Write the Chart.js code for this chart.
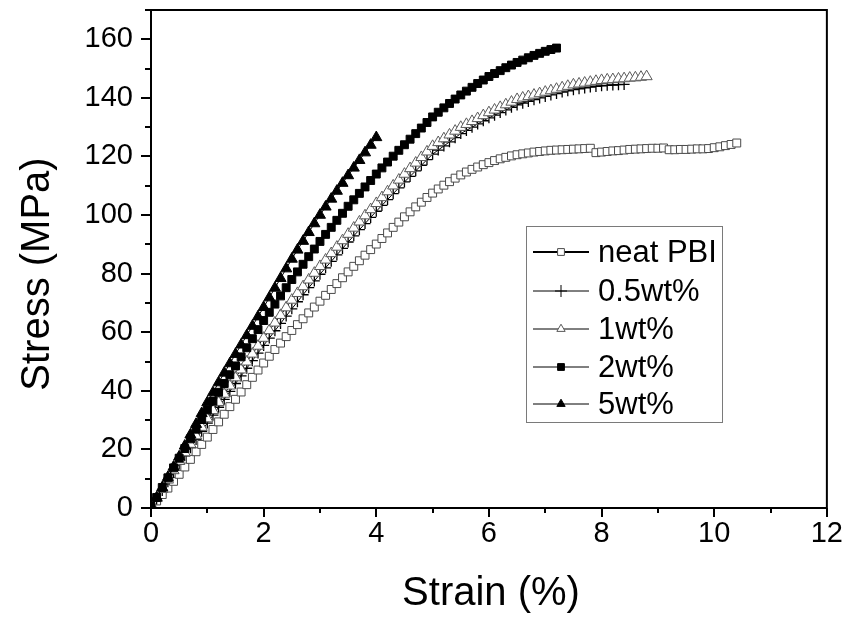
<!DOCTYPE html>
<html lang="en">
<head>
<meta charset="UTF-8">
<title>Stress-Strain curves</title>
<script src="https://cdn.jsdelivr.net/npm/chart.js"></script>
<style>
  html, body { margin: 0; padding: 0; background: #fff; }
  .chart-wrapper { position: relative; width: 852px; height: 626px; }
</style>
</head>
<body>
<div class="chart-wrapper"><canvas id="stressChart"></canvas></div>
<script>
// strain (%) sample points, shared by every curve
const strain = [
  0, 0.1, 0.2, 0.3, 0.4, 0.5, 0.6, 0.7, 0.8, 0.9,
  1, 1.1, 1.2, 1.3, 1.4, 1.5, 1.6, 1.7, 1.8, 1.9,
  2, 2.1, 2.2, 2.3, 2.4, 2.5, 2.6, 2.7, 2.8, 2.9,
  3, 3.1, 3.2, 3.3, 3.4, 3.5, 3.6, 3.7, 3.8, 3.9,
  4, 4.1, 4.2, 4.3, 4.4, 4.5, 4.6, 4.7, 4.8, 4.9,
  5, 5.1, 5.2, 5.3, 5.4, 5.5, 5.6, 5.7, 5.8, 5.9,
  6, 6.1, 6.2, 6.3, 6.4, 6.5, 6.6, 6.7, 6.8, 6.9,
  7, 7.1, 7.2, 7.3, 7.4, 7.5, 7.6, 7.7, 7.8, 7.9,
  8, 8.1, 8.2, 8.3, 8.4, 8.5, 8.6, 8.7, 8.8, 8.9,
  9, 9.1, 9.2, 9.3, 9.4, 9.5, 9.6, 9.7, 9.8, 9.9,
  10, 10.1, 10.2, 10.3, 10.4
];

// stress (MPa)
const neatPBI = [
  0.3, 2.4, 4.6, 6.8, 9.1, 11.5, 14, 16.6, 19.2, 21.7,
  24.2, 26.8, 29.4, 32, 34.6, 37.1, 39.6, 42.1, 44.6, 47.1,
  49.5, 51.8, 54.1, 56.3, 58.5, 60.6, 62.6, 64.6, 66.6, 68.6,
  70.6, 72.6, 74.6, 76.6, 78.6, 80.6, 82.5, 84.4, 86.3, 88.2,
  90.1, 92, 93.9, 95.8, 97.6, 99.4, 101.1, 102.8, 104.4, 106,
  107.5, 108.9, 110.2, 111.4, 112.6, 113.7, 114.7, 115.6, 116.4, 117.2,
  117.9, 118.6, 119.2, 119.7, 120.2, 120.6, 120.9, 121.2, 121.5, 121.7,
  121.9, 122.1, 122.2, 122.3, 122.4, 122.5, 122.6, 122.7, 122.8, 121.3,
  121.5, 121.7, 121.9, 122, 122.2, 122.4, 122.5, 122.6, 122.7, 122.8,
  122.8, 122.9, 122.3, 122.3, 122.4, 122.4, 122.5, 122.6, 122.6, 122.7,
  123, 123.3, 123.7, 124.1, 124.6
];
const wt05 = [
  0.3, 3.1, 6, 9, 12, 15, 17.8, 20.6, 23.4, 26.2,
  29, 31.7, 34.4, 37.1, 39.8, 42.5, 45.1, 47.7, 50.3, 52.9,
  55.5, 58, 60.5, 63, 65.5, 68, 70.4, 72.8, 75.2, 77.5,
  79.8, 82, 84.2, 86.4, 88.6, 90.8, 92.9, 95, 97.1, 99.2,
  101.3, 103.3, 105.3, 107.3, 109.3, 111.3, 113.2, 115.1, 117, 118.9,
  120.8, 122.2, 123.6, 125, 126.4, 127.8, 128.9, 130, 131.1, 132.2,
  133.2, 134.1, 135, 135.9, 136.8, 137.6, 138.2, 138.8, 139.4, 140,
  140.5, 141, 141.5, 142, 142.4, 142.8, 143.1, 143.4, 143.7, 143.9,
  144.1, 144.3, 144.4, 144.5, 144.6
];
const wt1 = [
  0.3, 3.3, 6.4, 9.6, 12.8, 16, 18.9, 21.8, 24.7, 27.6,
  30.5, 33.3, 36.1, 38.9, 41.7, 44.5, 47.2, 49.9, 52.6, 55.3,
  58, 60.6, 63.2, 65.8, 68.4, 71, 73.3, 75.6, 77.9, 80.2,
  82.5, 84.7, 86.9, 89.1, 91.3, 93.5, 95.6, 97.7, 99.8, 101.9,
  104, 106, 108, 110, 112, 114, 115.9, 117.8, 119.7, 121.6,
  123.5, 124.8, 126.1, 127.4, 128.7, 130, 131, 132, 133, 134,
  135, 135.9, 136.8, 137.7, 138.6, 139.5, 140, 140.5, 141, 141.5,
  142, 142.5, 143, 143.5, 144, 144.5, 144.8, 145.1, 145.4, 145.7,
  146, 146.2, 146.3, 146.5, 146.6, 146.8, 146.9, 147.1, 147.3
];
const wt2 = [
  0.5, 3.6, 7, 10.3, 13.7, 17, 20.3, 23.6, 26.9, 30.2,
  33.5, 36.5, 39.5, 42.5, 45.5, 48.5, 51.6, 54.7, 57.8, 60.9,
  64, 66.8, 69.6, 72.4, 75.2, 78, 80.6, 83.2, 85.8, 88.4,
  91, 93.4, 95.8, 98.2, 100.6, 103, 105.2, 107.4, 109.6, 111.8,
  114, 116.1, 118.1, 120.1, 122.1, 124, 125.9, 127.8, 129.7, 131.6,
  133.5, 135.1, 136.6, 138.1, 139.6, 141, 142.3, 143.6, 144.9, 146.1,
  147.3, 148.3, 149.3, 150.3, 151.2, 152.1, 152.9, 153.7, 154.5, 155.2,
  155.9, 156.5, 157
];
const wt5 = [
  0.5, 3.5, 7, 10.5, 14, 17.5, 21.2, 25, 28.6, 32.3,
  36, 39.4, 42.8, 46.1, 49.3, 52.5, 55.7, 58.9, 62.1, 65.3,
  68.5, 71.8, 75.1, 78.4, 81.7, 85, 88.1, 91.1, 94.1, 97.1,
  100, 102.8, 105.5, 108.2, 110.9, 113.5, 116.1, 118.7, 121.3, 123.9,
  126.5
];

const seriesNames = ['neat PBI', '0.5wt%', '1wt%', '2wt%', '5wt%'];
const xTickLabels = [0, 2, 4, 6, 8, 10, 12];
const yTickLabels = [0, 20, 40, 60, 80, 100, 120, 140, 160];
const xTitle = 'Strain (%)';
const yTitle = 'Stress (MPa)';

const FONT = '"Liberation Sans", Arial, sans-serif';

// marker look per series (legend uses the same)
const looks = [
  { pointStyle: 'rect',     radius: 5.6, fill: '#ffffff', edge: '#4a4a4a', lineW: 1.6, order: 5 },
  { pointStyle: 'cross',    radius: 5.5, fill: '#000000', edge: '#000000', lineW: 1,   order: 4 },
  { pointStyle: 'triangle', radius: 6.4, fill: '#ffffff', edge: '#5a5a5a', lineW: 1,   order: 3 },
  { pointStyle: 'rect',     radius: 5.6, fill: '#000000', edge: '#000000', lineW: 1,   order: 2 },
  { pointStyle: 'triangle', radius: 6.4, fill: '#000000', edge: '#000000', lineW: 1,   order: 1 }
];

const allSeries = [neatPBI, wt05, wt1, wt2, wt5];

const datasets = allSeries.map((vals, i) => ({
  label: seriesNames[i],
  data: vals.map((v, j) => ({ x: strain[j], y: v })),
  showLine: true,
  borderColor: '#000',
  borderWidth: looks[i].lineW,
  pointStyle: looks[i].pointStyle,
  pointRadius: looks[i].radius,
  pointBackgroundColor: looks[i].fill,
  pointBorderColor: looks[i].edge,
  pointBorderWidth: looks[i].pointStyle === 'cross' ? 1.3 : 1,
  order: looks[i].order
}));

function drawMarker(ctx, style, x, y, r, fill, edge) {
  ctx.save();
  ctx.fillStyle = fill;
  ctx.strokeStyle = edge;
  ctx.lineWidth = 1;
  ctx.beginPath();
  if (style === 'rect') {
    const s = r * Math.SQRT1_2;
    ctx.rect(x - s, y - s, 2 * s, 2 * s);
    ctx.fill(); ctx.stroke();
  } else if (style === 'triangle') {
    ctx.moveTo(x, y - r);
    ctx.lineTo(x + r * 0.866, y + r * 0.5);
    ctx.lineTo(x - r * 0.866, y + r * 0.5);
    ctx.closePath();
    ctx.fill(); ctx.stroke();
  } else if (style === 'cross') {
    ctx.moveTo(x - r, y); ctx.lineTo(x + r, y);
    ctx.moveTo(x, y - r); ctx.lineTo(x, y + r);
    ctx.stroke();
  }
  ctx.restore();
}

const figureDecor = {
  id: 'figureDecor',
  afterDatasetsDraw(chart) {
    const { ctx, chartArea: a, scales: { x, y } } = chart;
    ctx.save();

    // frame round the plot
    ctx.strokeStyle = '#000';
    ctx.lineWidth = 2;
    ctx.strokeRect(a.left, a.top, a.right - a.left, a.bottom - a.top);

    // outward tick marks, long on labelled values
    ctx.beginPath();
    x.ticks.forEach(t => {
      const px = Math.round(x.getPixelForValue(t.value));
      const len = xTickLabels.includes(t.value) ? 9 : 5;
      ctx.moveTo(px, a.bottom); ctx.lineTo(px, a.bottom + len);
    });
    y.ticks.forEach(t => {
      const py = Math.round(y.getPixelForValue(t.value));
      const len = yTickLabels.includes(t.value) ? 10 : 6;
      ctx.moveTo(a.left, py); ctx.lineTo(a.left - len, py);
    });
    ctx.stroke();

    // legend box
    const bx = 526, by = 226, bw = 196, bh = 196;
    ctx.fillStyle = '#fff';
    ctx.fillRect(bx, by, bw, bh);
    ctx.strokeStyle = '#7a7a7a';
    ctx.lineWidth = 1;
    ctx.strokeRect(bx + 0.5, by + 0.5, bw, bh);
    const rowY = [252, 291, 329, 367, 404];
    ctx.font = '31px ' + FONT;
    ctx.textBaseline = 'middle';
    ctx.textAlign = 'left';
    seriesNames.forEach((name, i) => {
      const yy = rowY[i];
      ctx.strokeStyle = '#000';
      ctx.lineWidth = i === 0 ? 2 : 1;
      ctx.beginPath();
      ctx.moveTo(533, yy); ctx.lineTo(589, yy);
      ctx.stroke();
      const lk = looks[i];
      drawMarker(ctx, lk.pointStyle, 561, yy, lk.pointStyle === 'cross' ? 6 : 4.8, lk.fill, lk.edge);
      ctx.fillStyle = '#000';
      ctx.fillText(name, 598, yy + 1);
    });

    // axis titles
    ctx.fillStyle = '#000';
    ctx.font = '40px ' + FONT;
    ctx.textAlign = 'center';
    ctx.textBaseline = 'middle';
    ctx.fillText(xTitle, 491, 594);
    ctx.translate(38, 274);
    ctx.rotate(-Math.PI / 2);
    ctx.fillText(yTitle, 0, 0);

    ctx.restore();
  }
};

new Chart(document.getElementById('stressChart'), {
  type: 'scatter',
  data: { datasets },
  options: {
    responsive: true,
    maintainAspectRatio: false,
    animation: false,
    layout: { padding: { top: 10, right: 24, left: 0, bottom: 0 } },
    plugins: { legend: { display: false }, tooltip: { enabled: false } },
    scales: {
      x: {
        type: 'linear', min: 0, max: 12,
        afterFit(scale) { scale.height = 118; },
        grid: { display: false, drawTicks: false },
        border: { display: false },
        ticks: {
          stepSize: 1, autoSkip: false, maxRotation: 0, padding: 9,
          color: '#000', font: { family: FONT, size: 29 },
          callback: v => xTickLabels.includes(v) ? String(v) : ''
        }
      },
      y: {
        type: 'linear', min: 0, max: 170,
        afterFit(scale) { scale.width = 151; scale.paddingTop = 0; scale.paddingBottom = 0; },
        grid: { display: false, drawTicks: false },
        border: { display: false },
        ticks: {
          stepSize: 10, autoSkip: false, padding: 18,
          color: '#000', font: { family: FONT, size: 29 },
          callback: v => yTickLabels.includes(v) ? String(v) : ''
        }
      }
    }
  },
  plugins: [figureDecor]
});
</script>
</body>
</html>
